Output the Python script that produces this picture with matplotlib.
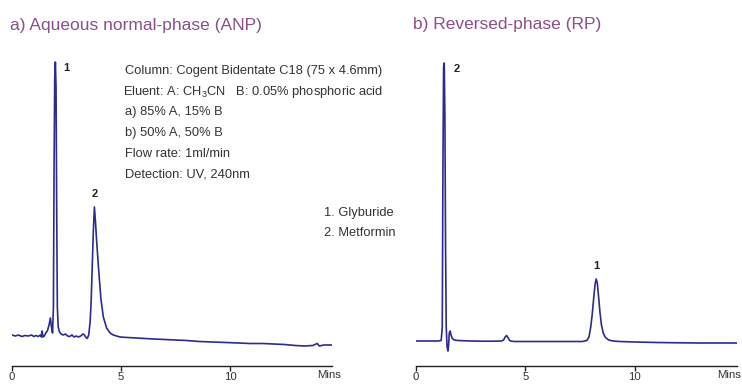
import matplotlib
matplotlib.use("Agg")
import matplotlib.pyplot as plt
from matplotlib import font_manager

names = {f.name for f in font_manager.fontManager.ttflist}
FONT = "Liberation Sans Narrow" if "Liberation Sans Narrow" in names else "Liberation Sans"
NARROW = FONT == "Liberation Sans Narrow"
plt.rcParams['font.family'] = [FONT, 'DejaVu Sans']
plt.rcParams['mathtext.fontset'] = 'custom'
plt.rcParams['mathtext.rm'] = FONT
plt.rcParams['mathtext.it'] = FONT
plt.rcParams['mathtext.default'] = 'regular'

# ---- data ----
anp_time = [0.00, 0.15, 0.30, 0.45, 0.60, 0.75, 0.90, 1.00, 1.10, 1.20, 1.30, 1.35,
            1.38, 1.42, 1.48, 1.55, 1.62, 1.70, 1.76, 1.81, 1.86, 1.90, 1.93, 1.96,
            1.99, 2.02, 2.05, 2.08, 2.12, 2.18, 2.25, 2.35, 2.45, 2.55, 2.65, 2.75,
            2.85, 2.95, 3.05, 3.15, 3.25, 3.30, 3.38, 3.45, 3.52, 3.58, 3.63, 3.68,
            3.73, 3.78, 3.83, 3.88, 3.94, 4.00, 4.08, 4.19, 4.34, 4.50, 4.65, 4.95,
            5.3, 5.7, 6.1, 6.5, 7.0, 7.5, 8.0, 8.6, 9.2, 9.8, 10.4, 10.9, 11.5, 12.0,
            12.5, 13.0, 13.4, 13.8, 14.0, 14.1, 14.3, 14.7]
anp_signal = [32, 31, 32, 30.5, 31.5, 31, 32, 30.5, 31.5, 30.5, 32, 30,
              36, 30, 31, 34, 36, 42, 49, 40, 34, 60, 200, 290,
              305, 280, 160, 60, 40, 35, 33, 32, 33, 31, 30.5, 32,
              30, 31, 30, 31, 33, 32.5, 30, 28.5, 32, 44, 65, 100,
              135, 160, 145, 127, 108, 90, 68, 50, 39, 34, 32, 30,
              29.5, 29, 28.5, 28, 27.5, 27, 26.5, 25.5, 25, 24.5, 24, 23.5, 23.5, 23,
              22.5, 21.5, 21, 21.5, 23.5, 21, 22, 22]

rp_time = [0.0, 0.5, 1.0, 1.15, 1.20, 1.23, 1.26, 1.29, 1.32, 1.35, 1.38, 1.42,
           1.46, 1.49, 1.52, 1.56, 1.60, 1.66, 1.75, 1.9, 2.5, 3.0, 3.5, 3.9, 4.0,
           4.07, 4.14, 4.21, 4.28, 4.36, 4.5, 5.0, 6.0, 7.0, 7.6, 7.8, 7.9, 7.98,
           8.05, 8.12, 8.18, 8.23, 8.28, 8.34, 8.40, 8.47, 8.55, 8.65, 8.8, 9.0,
           9.3, 10.0, 11.0, 12.0, 13.0, 14.0, 14.66]
rp_signal = [26, 26, 26, 26.5, 40, 200, 300, 304, 250, 120, 40, 20,
             16, 22, 34, 36, 32, 28.5, 27, 26.5, 26, 25.8, 25.8, 26, 27,
             30, 31.5, 29, 26.5, 25.8, 25.5, 25.5, 25.5, 25.5, 25.5, 26.5, 30, 40,
             53, 70, 83, 88, 84, 70, 55, 42, 34, 29.5, 27, 26,
             25.5, 25, 24.5, 24.2, 24, 24, 24]

x_ticks = [0, 5, 10]
x_tick_labels = ["0", "5", "10"]
titles = ["a) Aqueous normal-phase (ANP)", "b) Reversed-phase (RP)"]
anp_peak_labels = [("1", 1.99, 305), ("2", 3.78, 160)]
rp_peak_labels = [("2", 1.29, 304), ("1", 8.23, 88)]
conditions = ["Column: Cogent Bidentate C18 (75 x 4.6mm)",
              "Eluent: A: CH$_3$CN   B: 0.05% phosphoric acid",
              "a) 85% A, 15% B",
              "b) 50% A, 50% B",
              "Flow rate: 1ml/min",
              "Detection: UV, 240nm"]
compounds = ["1. Glyburide", "2. Metformin"]

# ---- layout ----
W, H = 742, 385
fig = plt.figure(figsize=(W / 100, H / 100), dpi=100)

LINE = '#2b2b92'
TXT = '#333333'
PURPLE = '#8a4f8c'
BODY = 10.5 if NARROW else 9.3
TICK = 9 if NARROW else 8.2
TITLE = 14 if NARROW else 12.5

def px_axes(x0, x1, ytop, ybot):
    return fig.add_axes([x0 / W, (H - ybot) / H, (x1 - x0) / W, (ybot - ytop) / H])

axL = px_axes(12, 332, 55, 366)
axR = px_axes(416, 737, 55, 366)

for ax, t, s, xmax in [(axL, anp_time, anp_signal, 14.68),
                       (axR, rp_time, rp_signal, 14.66)]:
    ax.plot(t, s, color=LINE, lw=1.2, solid_joinstyle='round')
    ax.set_xlim(0, xmax)
    ax.set_ylim(1, 312)
    for sp in ['left', 'top', 'right']:
        ax.spines[sp].set_visible(False)
    ax.spines['bottom'].set_color('#222222')
    ax.spines['bottom'].set_linewidth(1.0)
    ax.set_yticks([])
    ax.set_xticks(x_ticks)
    ax.set_xticklabels(x_tick_labels)
    ax.tick_params(axis='x', direction='out', length=3.5, width=1.0, color='#222222',
                   labelsize=TICK, labelcolor=TXT, pad=0.8)
    ax.patch.set_alpha(0)

# "Mins" axis-end labels
fig.text(329 / W, 1 - 370.5 / H, "Mins", ha='center', va='top', fontsize=TICK, color=TXT)
fig.text(741 / W, 1 - 370.5 / H, "Mins", ha='right', va='top', fontsize=TICK, color=TXT)

# peak labels
for ax, labels, dx_top in [(axL, anp_peak_labels, 0.5), (axR, rp_peak_labels, 0.55)]:
    for lab, t, s in labels:
        if s > 250:
            ax.text(t + dx_top, s - 6, lab, ha='center', va='center', fontsize=8,
                    color='#222222', fontweight='bold')
        else:
            ax.text(t, s + 13, lab, ha='center', va='center', fontsize=8,
                    color='#222222', fontweight='bold')

# titles
fig.text(10 / W, 1 - 30 / H, titles[0], ha='left', va='baseline', fontsize=TITLE, color=PURPLE)
fig.text(413 / W, 1 - 28.5 / H, titles[1], ha='left', va='baseline', fontsize=TITLE, color=PURPLE)

# conditions block
for i, line in enumerate(conditions):
    x0 = 123 if '$' in line else 125
    fig.text(x0 / W, 1 - (71 + i * 20.7) / H, line, ha='left', va='center',
             fontsize=BODY, color=TXT)
for i, line in enumerate(compounds):
    fig.text(324 / W, 1 - (213 + i * 20.5) / H, line, ha='left', va='center',
             fontsize=BODY, color=TXT)

fig.savefig("out.png", dpi=100)
